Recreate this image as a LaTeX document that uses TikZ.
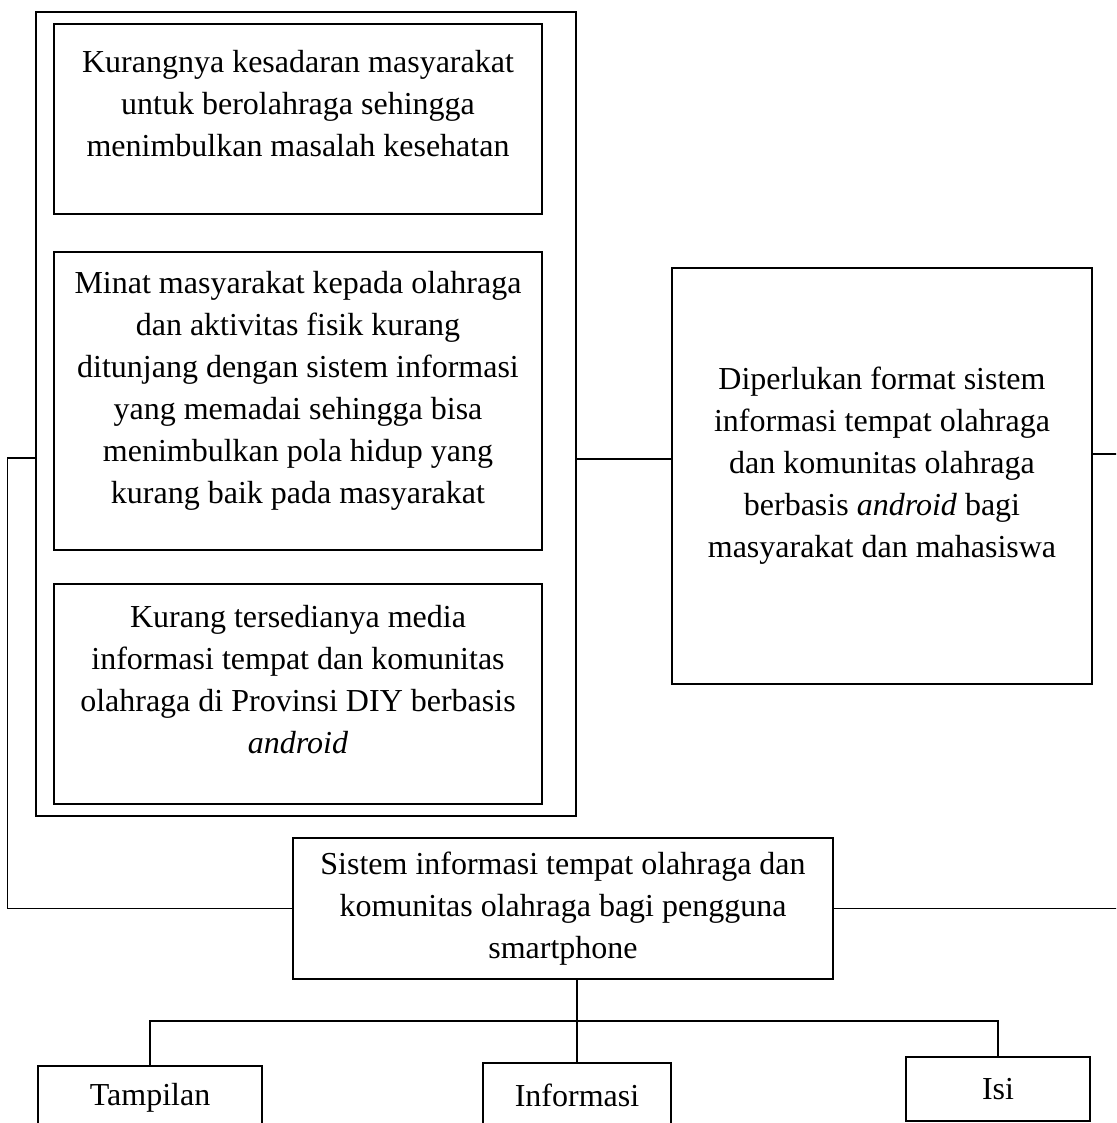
\documentclass[tikz,border=0pt]{standalone}
\usepackage{fontspec}
\setmainfont{Liberation Serif}

\tikzset{
  kotak/.style={draw, line width=0.7pt, align=center, inner sep=0pt,
    font=\fontsize{16}{21}\selectfont},
  garis/.style={line width=0.7pt}
}

\begin{document}
\begin{tikzpicture}[x=0.5pt,y=0.5pt]
    \useasboundingbox (0,0) rectangle (1116,1123);
    \clip (0,0) rectangle (1116,1123);

    \node[kotak, minimum width=270pt, minimum height=402pt] (masalah) at (306,709) {};
    \node[kotak, minimum width=244pt, minimum height=95pt, text depth=16pt] (kesadaran) at (298,1004)
      {Kurangnya kesadaran masyarakat\\ untuk berolahraga sehingga\\ menimbulkan masalah kesehatan};
    \node[kotak, minimum width=244pt, minimum height=149pt, text depth=14pt] (minat) at (298,722)
      {Minat masyarakat kepada olahraga\\ dan aktivitas fisik kurang\\ ditunjang dengan sistem informasi\\
       yang memadai sehingga bisa\\ menimbulkan pola hidup yang\\ kurang baik pada masyarakat};
    \node[kotak, minimum width=244pt, minimum height=110pt, text depth=14.6pt] (media) at (298,429)
      {Kurang tersedianya media\\ informasi tempat dan komunitas\\ olahraga di Provinsi DIY berbasis\\ \textit{android}};
    \node[kotak, minimum width=210pt, minimum height=208pt, text depth=13.5pt] (tujuan) at (882,647)
      {Diperlukan format sistem\\ informasi tempat olahraga\\ dan komunitas olahraga\\
       berbasis \textit{android} bagi\\ masyarakat dan mahasiswa};
    \node[kotak, minimum width=270pt, minimum height=70.5pt] (sistem) at (563,214.5)
      {Sistem informasi tempat olahraga dan\\ komunitas olahraga bagi pengguna\\ smartphone};
    \node[kotak, minimum width=112pt, minimum height=32pt] (tampilan) at (150,25) {Tampilan};
    \node[kotak, minimum width=94pt, minimum height=32pt] (informasi) at (577,28) {Informasi};
    \node[kotak, minimum width=92pt, minimum height=32pt] (isi) at (998,34) {Isi};

    \draw[garis] (masalah.east) ++(0,-45) coordinate (m1) -- (m1 -| tujuan.west);
    \draw[garis] (tujuan.east) ++(0,22) -- ++(40,0);
    \draw[garis] (masalah.west) ++(0,-44) -- ++(-28,0) |- (sistem.west);
    \draw[garis] (sistem.east) -- ++(300,0);
    \draw[garis] (sistem.south -| informasi.north) -- (informasi.north);
    \coordinate (cabang) at (576,102);
    \draw[garis] (tampilan.north) |- (cabang) -| (isi.north);
\end{tikzpicture}
\end{document}
